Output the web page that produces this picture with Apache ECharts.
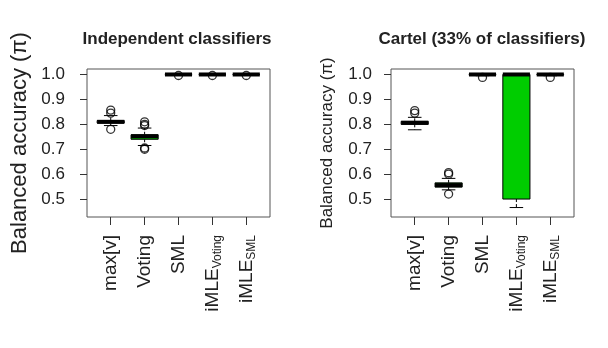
<!DOCTYPE html>
<html>
<head>
<meta charset="utf-8">
<script src="https://cdn.jsdelivr.net/npm/echarts@6/dist/echarts.min.js"></script>
<style>
  html, body { margin: 0; padding: 0; background: #fff; }
  #chart { width: 608px; height: 348px; }
</style>
</head>
<body>
<div id="chart"></div>
<script>
// categories shown on both panels
const categories = ["max[v]", "Voting", "SML", "iMLE_Voting", "iMLE_SML"];
const boxFills = ["#fff", "#00cd00", "#fff", "#00cd00", "#fff"];

// [lower whisker, Q1, median, Q3, upper whisker]
const indepStats = [
  [0.795, 0.805, 0.81, 0.815, 0.835],
  [0.715, 0.740, 0.752, 0.758, 0.785],
  [1.0, 1.0, 1.0, 1.0, 1.0],
  [1.0, 1.0, 1.0, 1.0, 1.0],
  [1.0, 1.0, 1.0, 1.0, 1.0]
];
const indepOutliers = [
  [0.857, 0.845, 0.78],
  [0.81, 0.80, 0.795, 0.705, 0.70],
  [0.996],
  [0.996],
  [0.996]
];

const cartelStats = [
  [0.778, 0.800, 0.806, 0.812, 0.828],
  [0.537, 0.548, 0.556, 0.565, 0.583],
  [0.995, 0.999, 1.0, 1.0, 1.0],
  [0.466, 0.50, 1.0, 1.0, 1.0],
  [0.995, 0.999, 1.0, 1.0, 1.0]
];
const cartelOutliers = [
  [0.855, 0.845],
  [0.606, 0.60, 0.52],
  [0.988],
  [],
  [0.988]
];

const yTicks = [0.5, 0.6, 0.7, 0.8, 0.9, 1.0];
const xTicks = [1, 2, 3, 4, 5];

const font = "Liberation Sans, Arial, Helvetica, sans-serif";
const ink = "#222";

function boxData(stats) {
  return stats.map((s, i) => [i + 1].concat(s));
}
function outlierData(outs) {
  const pts = [];
  outs.forEach((list, i) => list.forEach(v => pts.push([i + 1, v])));
  return pts;
}

function renderBox(params, api) {
  const x = api.value(0);
  const lo = api.coord([x, api.value(1)]);
  const q1 = api.coord([x, api.value(2)]);
  const md = api.coord([x, api.value(3)]);
  const q3 = api.coord([x, api.value(4)]);
  const hi = api.coord([x, api.value(5)]);
  const half = api.size([0.8, 0])[0] / 2;
  const cap = half / 2;
  const cx = md[0];
  const line = { stroke: "#000", lineWidth: 1 };
  return {
    type: "group",
    children: [
      { type: "line", shape: { x1: cx, y1: q3[1], x2: cx, y2: hi[1] }, style: Object.assign({ lineDash: [3, 2] }, line) },
      { type: "line", shape: { x1: cx, y1: q1[1], x2: cx, y2: lo[1] }, style: Object.assign({ lineDash: [3, 2] }, line) },
      { type: "line", shape: { x1: cx - cap, y1: hi[1], x2: cx + cap, y2: hi[1] }, style: line },
      { type: "line", shape: { x1: cx - cap, y1: lo[1], x2: cx + cap, y2: lo[1] }, style: line },
      { type: "rect", shape: { x: cx - half, y: q3[1], width: half * 2, height: q1[1] - q3[1] },
        style: { fill: boxFills[params.dataIndex], stroke: "#000", lineWidth: 1 } },
      { type: "line", shape: { x1: cx - half, y1: md[1], x2: cx + half, y2: md[1] },
        style: { stroke: "#000", lineWidth: 4 } }
    ]
  };
}

function xLabel(v) {
  const name = categories[Math.round(v) - 1] || "";
  const parts = name.split("_");
  if (parts.length === 2) return "{b|" + parts[0] + "}{s|" + parts[1] + "}";
  return "{b|" + name + "}";
}

function makeX(gridIndex) {
  return {
    type: "value", gridIndex: gridIndex, min: 0.3, max: 5.7,
    axisLine: { show: false },
    splitLine: { show: false },
    axisTick: { show: true, inside: false, length: 8, customValues: xTicks, lineStyle: { color: "#333" } },
    axisLabel: {
      customValues: xTicks, rotate: 90, margin: 18, color: ink,
      formatter: xLabel,
      rich: {
        b: { fontSize: 19, fontFamily: font, color: ink, lineHeight: 22 },
        s: { fontSize: 12, fontFamily: font, color: ink, lineHeight: 6, verticalAlign: "bottom" }
      }
    }
  };
}

function makeY(gridIndex, nameSize, nameGap, labelMargin) {
  return {
    type: "value", gridIndex: gridIndex, min: 0.428, max: 1.022,
    name: "Balanced accuracy (\u03c0)", nameLocation: "middle", nameGap: nameGap,
    nameTextStyle: { fontSize: nameSize, fontFamily: font, color: ink },
    axisLine: { show: false },
    splitLine: { show: false },
    axisTick: { show: true, inside: false, length: 7, customValues: yTicks, lineStyle: { color: "#333" } },
    axisLabel: {
      customValues: yTicks, margin: labelMargin, fontSize: 17, fontFamily: font, color: ink,
      formatter: v => v.toFixed(1)
    }
  };
}

const chart = echarts.init(document.getElementById("chart"), null, { renderer: "canvas" });
chart.setOption({
  animation: false,
  backgroundColor: "#fff",
  title: [
    { text: "Independent classifiers", left: 172, top: 26, textAlign: "center",
      textStyle: { fontSize: 17, fontWeight: "bold", fontFamily: font, color: ink } },
    { text: "Cartel (33% of classifiers)", left: 477, top: 26, textAlign: "center",
      textStyle: { fontSize: 17, fontWeight: "bold", fontFamily: font, color: ink } }
  ],
  grid: [
    { left: 87, right: 338, top: 69, bottom: 131, show: true, borderColor: "#555", borderWidth: 1, backgroundColor: "transparent" },
    { left: 391, right: 34, top: 69, bottom: 131, show: true, borderColor: "#555", borderWidth: 1, backgroundColor: "transparent" }
  ],
  xAxis: [makeX(0), makeX(1)],
  yAxis: [makeY(0, 22, 56, 22), makeY(1, 17, 55, 19)],
  series: [
    { type: "custom", xAxisIndex: 0, yAxisIndex: 0, renderItem: renderBox, data: boxData(indepStats) },
    { type: "custom", xAxisIndex: 1, yAxisIndex: 1, renderItem: renderBox, data: boxData(cartelStats) },
    { type: "scatter", xAxisIndex: 0, yAxisIndex: 0, symbol: "circle", symbolSize: 8,
      itemStyle: { color: "rgba(0,0,0,0)", borderColor: "#000", borderWidth: 1.3 },
      data: outlierData(indepOutliers), z: 5 },
    { type: "scatter", xAxisIndex: 1, yAxisIndex: 1, symbol: "circle", symbolSize: 8,
      itemStyle: { color: "rgba(0,0,0,0)", borderColor: "#000", borderWidth: 1.3 },
      data: outlierData(cartelOutliers), z: 5 }
  ]
});
</script>
</body>
</html>
